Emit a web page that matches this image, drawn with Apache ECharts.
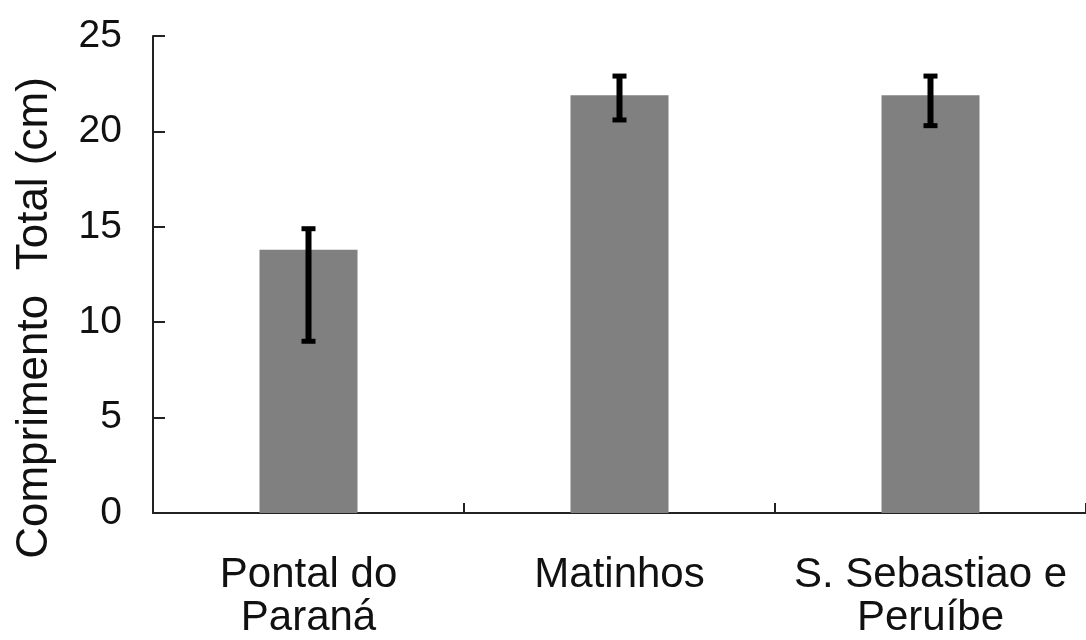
<!DOCTYPE html>
<html>
<head>
<meta charset="utf-8">
<script src="https://cdn.jsdelivr.net/npm/echarts@6/dist/echarts.min.js"></script>
<style>
  html, body { margin: 0; padding: 0; background: #ffffff; overflow: hidden; }
  #chart { width: 1086px; height: 640px; }
</style>
</head>
<body>
<div id="chart"></div>
<script>
// Mean total length per site, with lower/upper error limits (cm)
const categories = ['Pontal do\nParaná', 'Matinhos', 'S. Sebastiao e\nPeruíbe'];
const means = [13.8, 21.9, 21.9];
const errLow = [9.0, 20.6, 20.3];
const errHigh = [14.9, 22.9, 22.9];
const yTicks = [0, 5, 10, 15, 20, 25];

const FONT = '"Liberation Sans", Arial, sans-serif';
const chart = echarts.init(document.getElementById('chart'), null, { renderer: 'canvas' });

const errorData = categories.map((c, i) => [i, errLow[i], errHigh[i]]);

chart.setOption({
  animation: false,
  backgroundColor: '#ffffff',
  grid: { left: 153, right: -6, top: 36, bottom: 120, containLabel: false },
  xAxis: {
    type: 'category',
    data: categories,
    axisLine: { show: true, lineStyle: { color: '#222222', width: 2 } },
    axisTick: { show: true, inside: true, length: 10, lineStyle: { color: '#222222', width: 2 } },
    axisLabel: {
      color: '#111111', fontFamily: FONT, fontSize: 42, lineHeight: 43, margin: 41,
      interval: 0
    }
  },
  yAxis: {
    type: 'value',
    min: yTicks[0],
    max: yTicks[yTicks.length - 1],
    interval: 5,
    splitLine: { show: false },
    axisLine: { show: true, lineStyle: { color: '#222222', width: 2 } },
    axisTick: { show: true, inside: true, length: 12, lineStyle: { color: '#222222', width: 2 } },
    axisLabel: { color: '#111111', fontFamily: FONT, fontSize: 39, margin: 31 }
  },
  graphic: [{
    type: 'text',
    x: 35,
    y: 318,
    rotation: Math.PI / 2,
    style: {
      text: 'Comprimento  Total (cm)',
      fill: '#111111',
      font: '44px ' + FONT,
      align: 'center',
      verticalAlign: 'middle',
      textAlign: 'center',
      textVerticalAlign: 'middle'
    }
  }],
  series: [
    {
      type: 'bar',
      data: means,
      barWidth: 98,
      itemStyle: { color: '#808080' }
    },
    {
      type: 'custom',
      data: errorData,
      z: 10,
      renderItem: function (params, api) {
        const x = api.value(0);
        const lo = api.coord([x, api.value(1)]);
        const hi = api.coord([x, api.value(2)]);
        const capW = 7;
        const stem = { stroke: '#000000', lineWidth: 6, fill: null };
        const cap = { stroke: '#000000', lineWidth: 5, fill: null };
        return {
          type: 'group',
          children: [
            { type: 'line', shape: { x1: hi[0], y1: hi[1], x2: lo[0], y2: lo[1] }, style: stem },
            { type: 'line', shape: { x1: hi[0] - capW, y1: hi[1], x2: hi[0] + capW, y2: hi[1] }, style: cap },
            { type: 'line', shape: { x1: lo[0] - capW, y1: lo[1], x2: lo[0] + capW, y2: lo[1] }, style: cap }
          ]
        };
      }
    }
  ]
});
</script>
</body>
</html>
